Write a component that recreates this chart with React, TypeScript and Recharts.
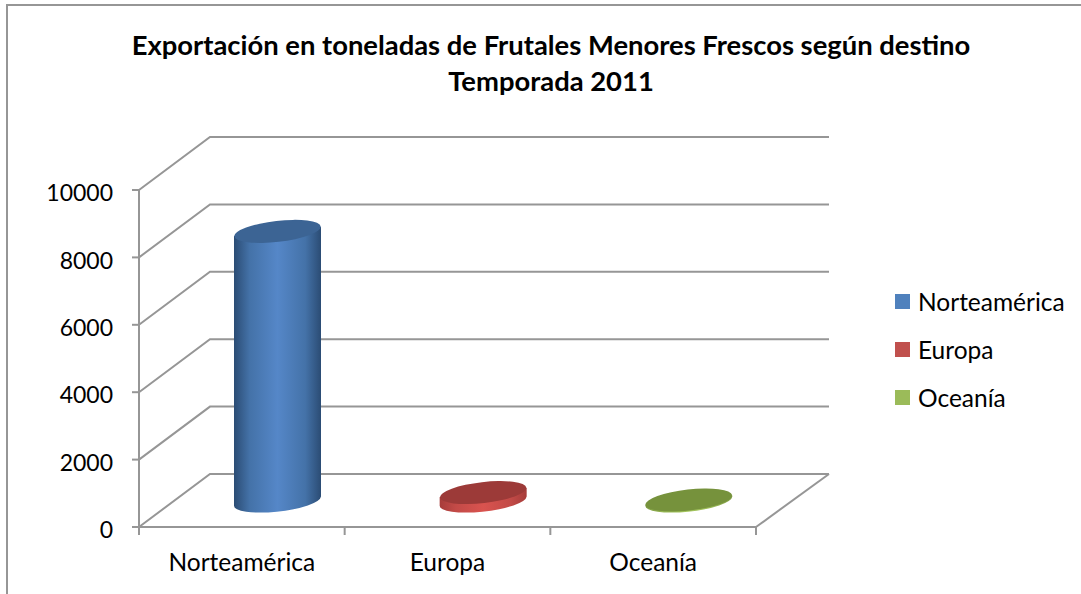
import { BarChart, Bar, CartesianGrid, Legend, XAxis, YAxis } from "recharts";

const categories = ["Norteamérica", "Europa", "Oceanía"];
const norteamerica = [8000, 0, 0];
const europa = [0, 250, 0];
const oceania = [0, 0, 30];
const yTicks = [0, 2000, 4000, 6000, 8000, 10000];
const titleLines = [
  "Exportación en toneladas de Frutales Menores Frescos según destino",
  "Temporada 2011",
];

const data = categories.map((name, i) => ({
  name,
  norteamerica: norteamerica[i],
  europa: europa[i],
  oceania: oceania[i],
}));

const FONT = "Lato, sans-serif";
const GRID = "#969696";
// how far the 3D floor goes back
const DEPTH_X = 71;
const DEPTH_Y = 53;

const shades: Record<string, { edge: string; side: string; mid: string; top: string }> = {
  "#4f81bd": { edge: "#2b4c74", side: "#4472a8", mid: "#5587c8", top: "#3c6494" },
  "#c0504d": { edge: "#a63c3a", side: "#c24a47", mid: "#d9534f", top: "#9c3a38" },
  "#9bbb59": { edge: "#7f9c45", side: "#93b351", mid: "#a5c75e", top: "#76923c" },
};

function Cylinder(props: any) {
  const { x, y, width, height, fill } = props;
  if (!height || height <= 0) return null;
  const s = shades[fill];
  const id = "cyl" + fill.slice(1);
  const rx = width / 2;
  const ry = 10.5;
  const cx = x + rx + 36;
  const top = y - 26;
  const bottom = y + height - 26;
  const angle = -6.5;
  const dy = 4.5;
  return (
    <g>
      <defs>
        <linearGradient id={id} x1="0" y1="0" x2="1" y2="0">
          <stop offset="0" stopColor={s.edge} />
          <stop offset="0.18" stopColor={s.side} />
          <stop offset="0.5" stopColor={s.mid} />
          <stop offset="0.82" stopColor={s.side} />
          <stop offset="1" stopColor={s.edge} />
        </linearGradient>
      </defs>
      <path
        d={`M${cx - rx} ${top + dy} L${cx - rx} ${bottom + dy} A${rx} ${ry} ${angle} 0 0 ${cx + rx} ${bottom - dy} L${cx + rx} ${top - dy} Z`}
        fill={`url(#${id})`}
      />
      <ellipse
        cx={cx}
        cy={top}
        rx={rx}
        ry={ry}
        fill={s.top}
        transform={`rotate(${angle} ${cx} ${top})`}
      />
    </g>
  );
}

function gridLine(props: any) {
  const { x1, x2, y1, index } = props;
  const backY = y1 - DEPTH_Y;
  return (
    <g key={"grid" + index} stroke={GRID} strokeWidth={2} fill="none">
      <path d={`M${x1} ${y1} L${x1 + DEPTH_X} ${backY} L${x2 + 73} ${backY}`} />
      {y1 > 500 && <path d={`M${x2} ${y1} L${x2 + 73} ${backY}`} />}
    </g>
  );
}

function CategoryTick(props: any) {
  const { x, y, width, visibleTicksCount, payload, index } = props;
  const band = width / visibleTicksCount;
  return (
    <g>
      <line x1={x - band / 2} x2={x - band / 2} y1={y} y2={y + 8} stroke={GRID} strokeWidth={2} />
      {index === visibleTicksCount - 1 && (
        <line x1={x + band / 2} x2={x + band / 2} y1={y} y2={y + 8} stroke={GRID} strokeWidth={2} />
      )}
      <text x={x} y={y + 44} textAnchor="middle" fontFamily={FONT} fontSize={24.5} fill="#000">
        {payload.value}
      </text>
    </g>
  );
}

function LegendList(props: any) {
  return (
    <div>
      {props.payload.map((item: any) => (
        <div
          key={item.value}
          style={{ display: "flex", alignItems: "center", height: 48, fontFamily: FONT, fontSize: 24.5, color: "#000" }}
        >
          <span style={{ width: 15, height: 15, background: item.color, marginRight: 8 }} />
          {item.value}
        </div>
      ))}
    </div>
  );
}

export default function App() {
  return (
    <div style={{ position: "absolute", left: 0, top: 0, width: 1081, height: 594, background: "#fff", overflow: "hidden" }}>
      <div style={{ position: "absolute", left: 6, top: 4, right: -4, bottom: -4, borderLeft: `2px solid ${GRID}`, borderTop: `2px solid ${GRID}` }} />
      <div
        style={{
          position: "absolute",
          left: 0,
          top: 27,
          width: 1102,
          textAlign: "center",
          fontFamily: FONT,
          fontWeight: 700,
          fontSize: 27.4,
          lineHeight: "36px",
          color: "#000",
        }}
      >
        {titleLines.map((line) => (
          <div key={line}>{line}</div>
        ))}
      </div>
      <BarChart
        width={1081}
        height={594}
        data={data}
        barSize={87}
        margin={{ top: 190, right: 325, bottom: 0, left: 0 }}
        style={{ position: "absolute", left: 0, top: 0 }}
      >
        <CartesianGrid vertical={false} horizontal={gridLine} />
        <XAxis
          dataKey="name"
          height={67}
          stroke={GRID}
          strokeWidth={2}
          tickLine={false}
          tickSize={0}
          tickMargin={0}
          interval={0}
          tick={<CategoryTick />}
        />
        <YAxis
          width={139}
          domain={[0, 10000]}
          ticks={yTicks}
          stroke={GRID}
          strokeWidth={2}
          tickSize={7}
          tickMargin={19}
          tick={{ fontFamily: FONT, fontSize: 23, fill: "#000", dy: 3 }}
        />
        <Legend
          layout="vertical"
          align="center"
          verticalAlign="middle"
          itemSorter={null}
          content={<LegendList />}
          wrapperStyle={{ left: 895, top: 277, width: 186 }}
        />
        <Bar dataKey="norteamerica" name="Norteamérica" stackId="a" fill="#4f81bd" shape={<Cylinder />} isAnimationActive={false} />
        <Bar dataKey="europa" name="Europa" stackId="a" fill="#c0504d" shape={<Cylinder />} isAnimationActive={false} />
        <Bar dataKey="oceania" name="Oceanía" stackId="a" fill="#9bbb59" shape={<Cylinder />} isAnimationActive={false} />
      </BarChart>
    </div>
  );
}
